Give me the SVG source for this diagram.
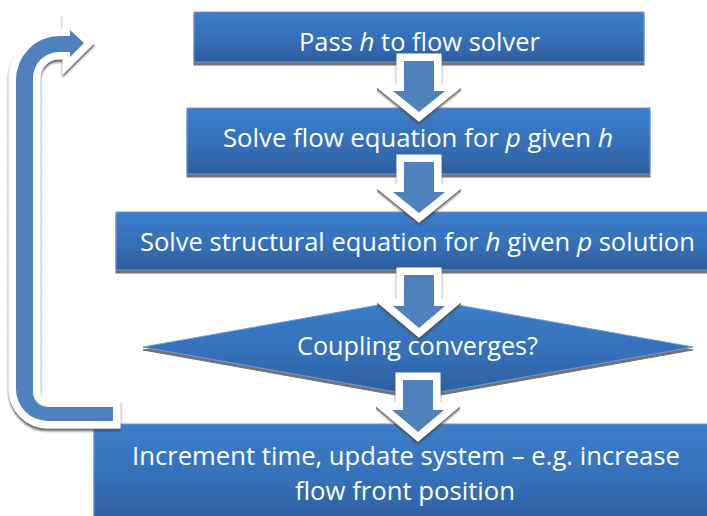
<svg xmlns="http://www.w3.org/2000/svg" width="707" height="516" viewBox="0 0 707 516">
<defs>
<linearGradient id="bg" x1="0" y1="0" x2="0" y2="1">
<stop offset="0" stop-color="#3c7ecb"/>
<stop offset="0.55" stop-color="#3570ba"/>
<stop offset="1" stop-color="#2d5e9d"/>
</linearGradient>
<filter id="sh" x="-10%" y="-10%" width="120%" height="140%">
<feDropShadow dx="0" dy="3" stdDeviation="0.7" flood-color="#5a5a5a" flood-opacity="0.85"/>
</filter>
<filter id="sha" x="-30%" y="-30%" width="160%" height="160%">
<feDropShadow dx="0" dy="2.5" stdDeviation="0.8" flood-color="#4a4a4a" flood-opacity="0.9"/>
</filter>
</defs>
<style>
.box{fill:url(#bg);stroke:#6c9ad4;stroke-width:1;filter:url(#sh)}
.txt{font-family:"Open Sans","Liberation Sans",sans-serif;font-size:25.5px;fill:#ffffff}
.it{font-style:italic}
.arr{fill:#4f81bd;stroke:#ffffff;stroke-width:15;stroke-linejoin:miter;stroke-miterlimit:10;paint-order:stroke;filter:url(#sha)}
.faint{stroke:#cfcfcf;stroke-width:0.7;stroke-dasharray:1 2;fill:none}
</style>

<g id="n1">
<rect class="box" x="194" y="12" width="450" height="50"/>
<text class="txt" x="299" y="51" textLength="53.7" lengthAdjust="spacingAndGlyphs">Pass</text>
<text class="txt it" x="359.3" y="51" textLength="15.2" lengthAdjust="spacingAndGlyphs">h</text>
<text class="txt" x="381.1" y="51" textLength="158.8" lengthAdjust="spacingAndGlyphs">to flow solver</text>
</g>
<g id="n2">
<rect class="box" x="187" y="108" width="463" height="66"/>
<text class="txt" x="223" y="147" textLength="275.7" lengthAdjust="spacingAndGlyphs">Solve flow equation for</text>
<text class="txt it" x="505.4" y="147" textLength="15.4" lengthAdjust="spacingAndGlyphs">p</text>
<text class="txt" x="527.4" y="147" textLength="63.6" lengthAdjust="spacingAndGlyphs">given</text>
<text class="txt it" x="597.7" y="147" textLength="15.4" lengthAdjust="spacingAndGlyphs">h</text>
</g>
<g id="n3">
<rect class="box" x="116" y="212" width="604" height="58"/>
<text class="txt" x="140" y="251" textLength="338.7" lengthAdjust="spacingAndGlyphs">Solve structural equation for</text>
<text class="txt it" x="485.3" y="251" textLength="15.3" lengthAdjust="spacingAndGlyphs">h</text>
<text class="txt" x="507.2" y="251" textLength="63.1" lengthAdjust="spacingAndGlyphs">given</text>
<text class="txt it" x="576.9" y="251" textLength="15.3" lengthAdjust="spacingAndGlyphs">p</text>
<text class="txt" x="598.7" y="251" textLength="96.2" lengthAdjust="spacingAndGlyphs">solution</text>
</g>
<g id="n4">
<polygon class="box" points="143,347 418,298 693,347 418,396"/>
<text class="txt" x="297" y="355" textLength="241" lengthAdjust="spacingAndGlyphs">Coupling converges?</text>
</g>
<g id="n5">
<rect class="box" x="94" y="424" width="624" height="100"/>
<text class="txt" x="132" y="465" textLength="548" lengthAdjust="spacingAndGlyphs">Increment time, update system – e.g. increase</text>
<text class="txt" x="295" y="500" textLength="220" lengthAdjust="spacingAndGlyphs">flow front position</text>
</g>

<g id="connectors">
<path class="arr" d="M404,61 H434 V91 H445 L419,112 L393,91 H404 Z"/>
<path class="arr" d="M404,162 H434 V192 H445 L419,213 L393,192 H404 Z"/>
<path class="arr" d="M404,275 H434 V306 H445 L419,328 L393,306 H404 Z"/>
<path class="arr" d="M403,380 H433 V410 H444 L418,432 L392,410 H403 Z"/>
<line class="faint" x1="8" y1="72" x2="8" y2="392"/>
<line class="faint" x1="40" y1="80" x2="40" y2="386"/>
<path class="arr" stroke-width="14" d="M113,421 H48 A32,32 0 0 1 16,389 V80 A44,44 0 0 1 60,36 H70 V30 L84,43 L70,57 V52 H59 A26,26 0 0 0 33,78 V392 A15,15 0 0 0 48,407 H113 Z"/>
</g>
</svg>
